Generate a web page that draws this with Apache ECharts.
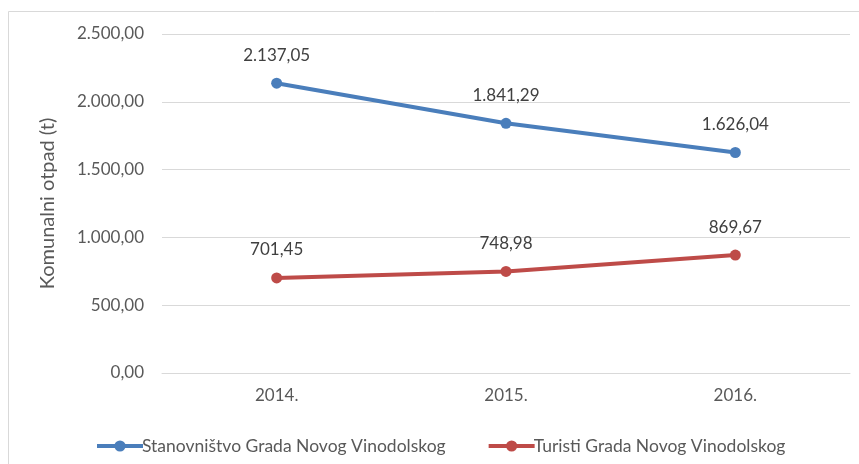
<!DOCTYPE html>
<html><head><meta charset="utf-8">
<script src="https://cdn.jsdelivr.net/npm/echarts@6/dist/echarts.min.js"></script>
<style>html,body{margin:0;padding:0;background:#fff}#c{width:859px;height:464px}</style>
</head><body><div id="c"></div>
<script>
const categories = ['2014.', '2015.', '2016.'];
const stanovnistvo = [2137.05, 1841.29, 1626.04];
const turisti = [701.45, 748.98, 869.67];
const seriesNames = ['Stanovništvo Grada Novog Vinodolskog', 'Turisti Grada Novog Vinodolskog'];
const yTitle = 'Komunalni otpad (t)';

function fmt(v) {
  const s = Number(v).toFixed(2);
  const parts = s.split('.');
  const intPart = parts[0].replace(/\B(?=(\d{3})+(?!\d))/g, '.');
  return intPart + ',' + parts[1];
}
const FONT = 'Lato, "Open Sans", sans-serif';
const chart = echarts.init(document.getElementById('c'), null, {renderer: 'canvas'});
chart.setOption({
  animation: false,
  backgroundColor: '#fff',
  graphic: [{
    type: 'rect', shape: {x: 8.5, y: 11.5, width: 900, height: 500},
    style: {fill: 'none', stroke: '#d9d9d9', lineWidth: 1}, silent: true
  }],
  grid: {left: 162, right: 9, top: 34, bottom: 91},
  xAxis: {
    type: 'category', data: categories, boundaryGap: true,
    axisLine: {show: true, lineStyle: {color: '#d9d9d9', width: 1}},
    axisTick: {show: false},
    axisLabel: {color: '#595959', fontSize: 17, fontFamily: FONT, margin: 14}
  },
  yAxis: {
    type: 'value', min: 0, max: 2500, interval: 500,
    name: yTitle, nameLocation: 'middle', nameGap: 104, nameRotate: 90,
    nameTextStyle: {color: '#595959', fontSize: 20, fontFamily: FONT},
    axisLine: {show: false}, axisTick: {show: false},
    splitLine: {lineStyle: {color: '#d9d9d9', width: 1}},
    axisLabel: {color: '#595959', fontSize: 17, fontFamily: FONT, margin: 18, formatter: fmt}
  },
  legend: {
    left: 90, top: 432, itemGap: 41, itemWidth: 46, itemHeight: 14,
    lineStyle: {width: 4},
    textStyle: {color: '#595959', fontSize: 17.5, fontFamily: FONT, padding: [0, 0, 0, -6]},
    data: seriesNames
  },
  series: [
    {
      name: seriesNames[0], type: 'line', data: stanovnistvo,
      symbol: 'circle', symbolSize: 11,
      lineStyle: {color: '#4A7EBB', width: 4},
      itemStyle: {color: '#4A7EBB'},
      label: {show: true, position: 'top', distance: 14, color: '#404040', fontSize: 17, fontFamily: FONT,
        formatter: p => fmt(p.value)}
    },
    {
      name: seriesNames[1], type: 'line', data: turisti,
      symbol: 'circle', symbolSize: 11,
      lineStyle: {color: '#BE4B48', width: 4},
      itemStyle: {color: '#BE4B48'},
      label: {show: true, position: 'top', distance: 14, color: '#404040', fontSize: 17, fontFamily: FONT,
        formatter: p => fmt(p.value)}
    }
  ]
});
</script></body></html>
